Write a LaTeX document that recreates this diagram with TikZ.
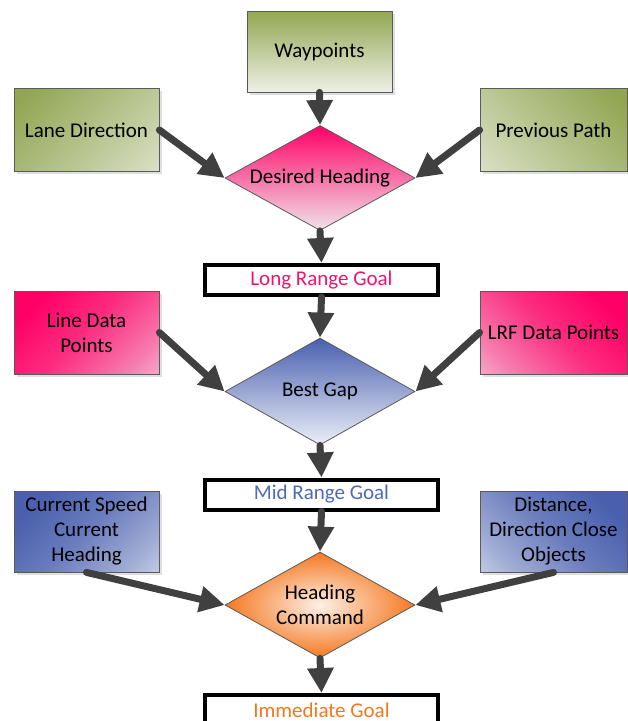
\documentclass[tikz,border=0pt]{standalone}
\usepackage{fontspec}
\setmainfont{Carlito}
\usepackage{tikz}
\usetikzlibrary{shapes.geometric,arrows.meta,shadows}

\definecolor{wpdark}{RGB}{146,166,82}
\definecolor{wplight}{RGB}{238,240,230}
\definecolor{pkdark}{RGB}{255,0,102}
\definecolor{pklight}{RGB}{240,228,234}
\definecolor{bldark}{RGB}{74,96,174}
\definecolor{bllight}{RGB}{236,239,247}
\definecolor{ordark}{RGB}{245,120,32}
\definecolor{orlight}{RGB}{253,240,230}
\definecolor{arrowgray}{RGB}{64,64,64}
\definecolor{boxgray}{RGB}{90,90,90}
\definecolor{lrgtext}{RGB}{240,20,110}
\definecolor{mrgtext}{RGB}{80,106,184}
\definecolor{igtext}{RGB}{245,120,32}

% corner fades: light in one corner, dark over the rest
\pgfdeclareverticalshading{grncorner}{100bp}{color(0bp)=(wplight); color(25bp)=(wpdark!35!wplight);
  color(50bp)=(wpdark!65!wplight); color(80bp)=(wpdark); color(100bp)=(wpdark)}
\pgfdeclareverticalshading{pnkcorner}{100bp}{color(0bp)=(pklight); color(25bp)=(pkdark!45!pklight);
  color(50bp)=(pkdark!80!pklight); color(75bp)=(pkdark); color(100bp)=(pkdark)}
\pgfdeclareverticalshading{blucorner}{100bp}{color(0bp)=(bllight); color(25bp)=(bldark!45!bllight);
  color(50bp)=(bldark!80!bllight); color(75bp)=(bldark); color(100bp)=(bldark)}

\begin{document}
\begin{tikzpicture}[x=1pt,y=-1pt,
  every node/.style={font=\fontsize{21}{25}\selectfont, align=center},
  inbox/.style={rectangle, draw=boxgray, line width=0.8pt, minimum width=145pt, minimum height=83pt,
    drop shadow={shadow xshift=2.5pt, shadow yshift=-2.5pt, fill=black!25}},
  check/.style={diamond, draw=boxgray, line width=0.8pt, aspect=1.8, inner sep=0pt,
    minimum width=190pt, minimum height=106pt},
  goal/.style={rectangle, draw=black, line width=4pt, fill=white, minimum width=233pt, minimum height=30pt},
  flow/.style={draw=arrowgray, line width=7pt, line cap=round, -{Triangle[length=25pt,width=25pt]}}]

\useasboundingbox (0,0) rectangle (628,721);

% first stage: heading
\node[inbox, top color=wpdark, bottom color=wplight, minimum height=81pt] (wp) at (319.5,51.5) {Waypoints};
\node[inbox, shade, shading=grncorner, shading angle=45] (ld) at (86.5,130) {Lane Direction};
\node[inbox, shade, shading=grncorner, shading angle=-45, minimum width=147pt] (pp) at (553.5,130) {Previous Path};
\node[check, top color=pkdark, bottom color=pklight, minimum height=105pt] (dh) at (320,178) {Desired Heading};
\node[goal, text=lrgtext] (lrg) at (321.5,280) {Long Range Goal};

% second stage: gap
\node[inbox, shade, shading=pnkcorner, shading angle=45] (ldp) at (86.5,332.5) {Line Data\\Points};
\node[inbox, shade, shading=pnkcorner, shading angle=-45, minimum width=147pt] (lrf) at (553.5,332.5) {LRF Data Points};
\node[check, top color=bldark, bottom color=bllight, minimum height=107pt] (bg) at (320,391.5) {Best Gap};
\node[goal, text=mrgtext] (mrg) at (321.5,494.5) {Mid Range Goal};

% third stage: command
\node[inbox, shade, shading=blucorner, shading angle=45, minimum height=81pt] (cs) at (86.5,531.5) {Current Speed\\Current\\Heading};
\node[inbox, shade, shading=blucorner, shading angle=-45, minimum width=147pt, minimum height=81pt] (dc) at (553.5,531.5) {Distance,\\Direction Close\\Objects};
\node[check, inner color=orlight, outer color=ordark] (hc) at (320,605) {Heading\\Command};
\node[goal, text=igtext] (ig) at (321.5,710) {Immediate Goal};

% connectors
\draw[flow] (wp.south) -- (dh.north);
\draw[flow] (ld.east) -- (dh.west);
\draw[flow] (pp.west) -- (dh.east);
\draw[flow] (dh.south) -- (lrg.north);
\draw[flow] (lrg.south) -- (bg.north);
\draw[flow] (ldp.east) -- (bg.west);
\draw[flow] (lrf.west) -- (bg.east);
\draw[flow] (bg.south) -- (mrg.north);
\draw[flow] (mrg.south) -- (hc.north);
\draw[flow] (cs.south) -- (hc.west);
\draw[flow] (dc.south) -- (hc.east);
\draw[flow] (hc.south) -- (ig.north);

\end{tikzpicture}
\end{document}
